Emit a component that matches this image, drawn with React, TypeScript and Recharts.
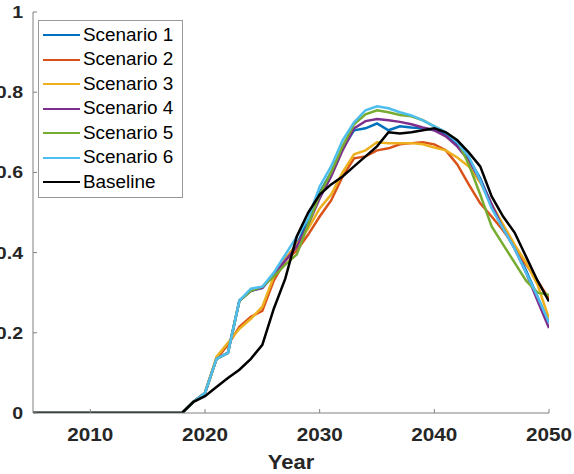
import { LineChart, Line, XAxis, YAxis, Legend } from 'recharts'

const years = [2005, 2018, 2019, 2020, 2021, 2022, 2023, 2024, 2025, 2026, 2027, 2028, 2029, 2030, 2031, 2032, 2033, 2034, 2035, 2036, 2037, 2038, 2039, 2040, 2041, 2042, 2043, 2044, 2045, 2046, 2047, 2048, 2049, 2050]

const scenario1 = [0, 0, 0.028, 0.05, 0.135, 0.15, 0.28, 0.305, 0.312, 0.345, 0.385, 0.42, 0.48, 0.55, 0.6, 0.66, 0.705, 0.71, 0.722, 0.705, 0.715, 0.712, 0.71, 0.705, 0.695, 0.67, 0.635, 0.585, 0.52, 0.465, 0.415, 0.355, 0.29, 0.225]
const scenario2 = [0, 0, 0.028, 0.05, 0.135, 0.17, 0.215, 0.24, 0.255, 0.33, 0.38, 0.405, 0.445, 0.49, 0.53, 0.59, 0.635, 0.64, 0.655, 0.66, 0.67, 0.673, 0.675, 0.67, 0.655, 0.62, 0.57, 0.523, 0.49, 0.455, 0.415, 0.37, 0.33, 0.285]
const scenario3 = [0, 0, 0.028, 0.05, 0.14, 0.175, 0.21, 0.235, 0.265, 0.34, 0.385, 0.42, 0.46, 0.51, 0.545, 0.6, 0.645, 0.655, 0.675, 0.673, 0.673, 0.673, 0.67, 0.662, 0.655, 0.637, 0.615, 0.575, 0.52, 0.47, 0.42, 0.375, 0.32, 0.235]
const scenario4 = [0, 0, 0.028, 0.05, 0.135, 0.15, 0.28, 0.305, 0.312, 0.345, 0.38, 0.415, 0.47, 0.535, 0.59, 0.655, 0.71, 0.728, 0.733, 0.73, 0.726, 0.72, 0.712, 0.705, 0.69, 0.665, 0.63, 0.58, 0.52, 0.46, 0.41, 0.35, 0.28, 0.212]
const scenario5 = [0, 0, 0.028, 0.05, 0.135, 0.15, 0.28, 0.305, 0.315, 0.34, 0.37, 0.395, 0.47, 0.545, 0.6, 0.665, 0.72, 0.745, 0.755, 0.75, 0.743, 0.74, 0.73, 0.715, 0.7, 0.68, 0.62, 0.545, 0.465, 0.42, 0.375, 0.33, 0.3, 0.295]
const scenario6 = [0, 0, 0.028, 0.05, 0.135, 0.15, 0.28, 0.31, 0.315, 0.35, 0.395, 0.44, 0.485, 0.565, 0.615, 0.68, 0.725, 0.755, 0.765, 0.76, 0.75, 0.742, 0.73, 0.715, 0.7, 0.675, 0.64, 0.58, 0.51, 0.46, 0.41, 0.35, 0.29, 0.225]
const baseline = [0, 0, 0.028, 0.042, 0.065, 0.087, 0.108, 0.135, 0.17, 0.26, 0.335, 0.44, 0.5, 0.545, 0.57, 0.59, 0.615, 0.64, 0.665, 0.7, 0.697, 0.7, 0.705, 0.71, 0.7, 0.68, 0.65, 0.615, 0.54, 0.49, 0.45, 0.39, 0.33, 0.278]

const seriesKeys = ['s1', 's2', 's3', 's4', 's5', 's6', 'base']
const seriesNames = ['Scenario 1', 'Scenario 2', 'Scenario 3', 'Scenario 4', 'Scenario 5', 'Scenario 6', 'Baseline']
const seriesColors = ['#0072BD', '#D95319', '#EDB120', '#7E2F8E', '#77AC30', '#4DBEEE', '#000000']
const seriesValues = [scenario1, scenario2, scenario3, scenario4, scenario5, scenario6, baseline]

const xTicks = [2010, 2020, 2030, 2040, 2050]
const yTicks = [0, 0.2, 0.4, 0.6, 0.8, 1]

const data = years.map((year, i) => {
  const row: Record<string, number> = { year }
  seriesKeys.forEach((k, j) => { row[k] = seriesValues[j][i] })
  return row
})

const FONT = '"Liberation Sans", Arial, sans-serif'
const AXIS = '#808080'
const TEXT = '#262626'

const fmtY = (v: number) => (v === 0 || v === 1 ? String(v) : v.toFixed(1))

function BottomTick({ x, y, payload }: any) {
  return (
    <g>
      <line x1={x} y1={y} x2={x} y2={y - 4} stroke={AXIS} />
      <text transform={`translate(${x},${y + 28}) scale(1.15,1)`} textAnchor="middle"
        fontFamily={FONT} fontWeight="bold" fontSize={18} fill={TEXT}>{payload.value}</text>
    </g>
  )
}

function TopTick({ x, y }: any) {
  return <line x1={x} y1={y} x2={x} y2={y + 4} stroke={AXIS} />
}

function LeftTick({ x, y, payload }: any) {
  return (
    <g>
      <line x1={x} y1={y} x2={x + 4} y2={y} stroke={AXIS} />
      <text transform={`translate(${x - 10},${y + 6}) scale(1.15,1)`} textAnchor="end"
        fontFamily={FONT} fontWeight="bold" fontSize={17} fill={TEXT}>{fmtY(payload.value)}</text>
    </g>
  )
}

function RightTick({ x, y }: any) {
  return <line x1={x} y1={y} x2={x - 4} y2={y} stroke={AXIS} />
}

function YearLabel({ viewBox }: any) {
  const cx = viewBox.x + viewBox.width / 2
  return (
    <text transform={`translate(${cx},${viewBox.y + viewBox.height - 5}) scale(1.1,1)`} textAnchor="middle"
      fontFamily={FONT} fontWeight="bold" fontSize={20} fill={TEXT}>Year</text>
  )
}

function LegendBox() {
  return (
    <div style={{ border: '1px solid #999', background: '#fff', padding: '2px 0', width: 143, fontFamily: FONT }}>
      {seriesNames.map((name, i) => (
        <div key={name} style={{ display: 'flex', alignItems: 'center', height: 24.5 }}>
          <span style={{ display: 'inline-block', width: 37, height: 0, borderTop: `2.5px solid ${seriesColors[i]}`, marginLeft: 4, marginRight: 3 }} />
          <span style={{ fontSize: 17.5, color: '#000', transform: 'scaleX(1.08)', transformOrigin: 'left center', whiteSpace: 'nowrap' }}>{name}</span>
        </div>
      ))}
    </div>
  )
}

export default function App() {
  return (
    <div style={{ position: 'absolute', left: 0, top: 0, background: '#fff' }}>
      <LineChart width={574} height={474} data={data} margin={{ top: 12, right: 25, bottom: 0, left: 0 }}>
        <XAxis dataKey="year" type="number" domain={[2005, 2050]} ticks={xTicks} allowDataOverflow
          height={61} stroke={AXIS} tickSize={0} tickMargin={0} tickLine={false} tick={<BottomTick />}
          interval={0} label={<YearLabel />} />
        <XAxis xAxisId="top" orientation="top" dataKey="year" type="number" domain={[2005, 2050]} ticks={xTicks}
          allowDataOverflow height={0} stroke={AXIS} tickSize={0} tickMargin={0} tickLine={false}
          tick={<TopTick />} interval={0} />
        <YAxis type="number" domain={[0, 1]} ticks={yTicks} allowDataOverflow width={33} stroke={AXIS}
          tickSize={0} tickMargin={0} tickLine={false} tick={<LeftTick />} interval={0} />
        <YAxis yAxisId="right" orientation="right" type="number" domain={[0, 1]} ticks={yTicks} allowDataOverflow
          width={0} stroke={AXIS} tickSize={0} tickMargin={0} tickLine={false} tick={<RightTick />} interval={0} />
        {seriesKeys.map((k, i) => (
          <Line key={k} type="linear" dataKey={k} name={seriesNames[i]} stroke={seriesColors[i]}
            strokeWidth={2.5} dot={false} isAnimationActive={false} />
        ))}
        <Legend layout="horizontal" verticalAlign="middle" align="center" content={<LegendBox />}
          wrapperStyle={{ left: 38, top: 20, width: 145, height: 'auto' }} />
      </LineChart>
    </div>
  )
}
